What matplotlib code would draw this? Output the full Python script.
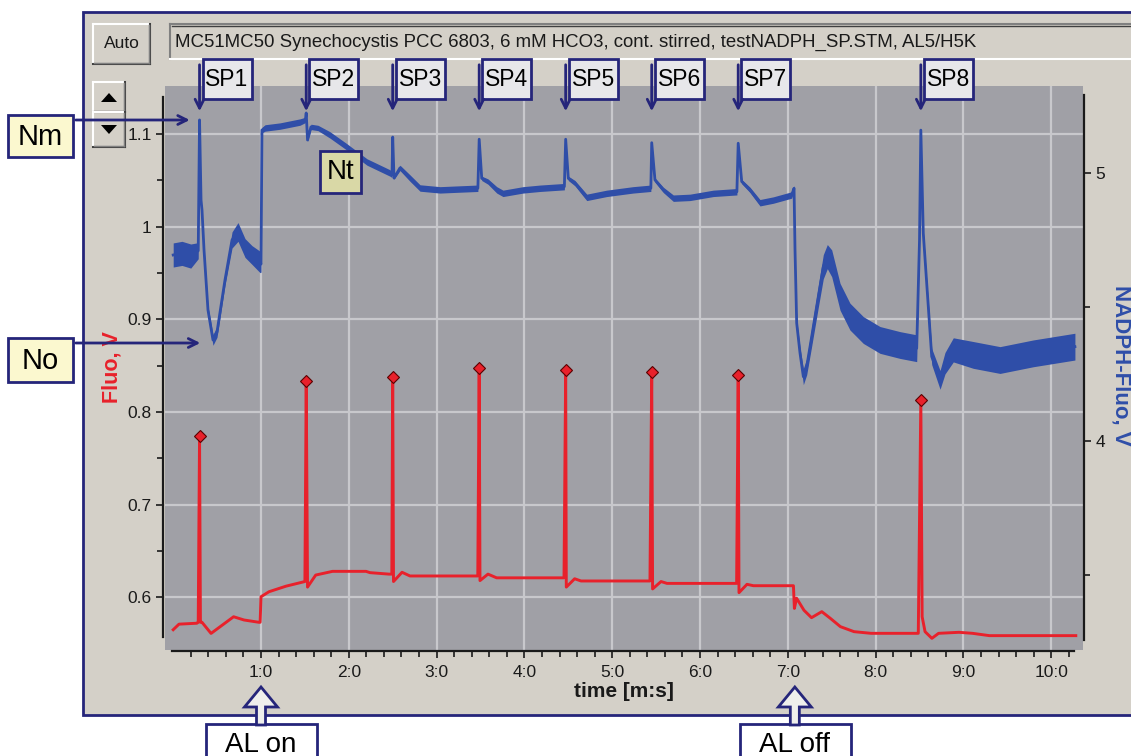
import numpy as np
import matplotlib
matplotlib.use('Agg')
import matplotlib.pyplot as plt
from matplotlib.patches import Rectangle, Polygon, FancyArrowPatch
from matplotlib.lines import Line2D
from matplotlib.ticker import FixedLocator, FuncFormatter

W, H = 1131, 756

# saturation pulses (min) and the peak reached by each trace
sp_times = [0.30, 1.515, 2.50, 3.485, 4.47, 5.45, 6.435, 8.515]
sp_labels = ['SP1', 'SP2', 'SP3', 'SP4', 'SP5', 'SP6', 'SP7', 'SP8']
red_peaks = [0.774, 0.833, 0.838, 0.847, 0.845, 0.843, 0.840, 0.813]
blue_peaks = [5.198, 5.224, 5.134, 5.126, 5.126, 5.113, 5.111, 5.16]

# actinic light on / off
al_times = [1.0, 7.08]
al_labels = ['AL on', 'AL off']

# chlorophyll fluorescence (left axis), between pulses
red_t = [0.00, 0.066, 0.27, 0.285, 0.31, 0.328, 0.431, 0.688, 0.806, 0.977, 0.99,
         1.0, 1.091, 1.285, 1.50, 1.53, 1.623, 1.815, 2.196, 2.241, 2.458, 2.49,
         2.509, 2.606, 2.697, 3.469, 3.494, 3.585, 3.684, 4.451, 4.477, 4.572,
         4.645, 5.43, 5.46, 5.556, 5.624, 6.417, 6.444, 6.535, 6.608, 7.064,
         7.075, 7.10, 7.184, 7.27, 7.387, 7.484, 7.599, 7.754, 7.948, 8.486,
         8.53, 8.563, 8.641, 8.717, 8.95, 9.104, 9.296, 10.28]
red_v = [0.565, 0.571, 0.572, 0.573, 0.573, 0.573, 0.561, 0.579, 0.5755, 0.573, 0.573,
         0.6006, 0.606, 0.612, 0.617, 0.611, 0.624, 0.628, 0.628, 0.6266, 0.625, 0.625,
         0.617, 0.627, 0.623, 0.623, 0.618, 0.625, 0.621, 0.621, 0.611, 0.620,
         0.6176, 0.6176, 0.609, 0.617, 0.615, 0.615, 0.605, 0.614, 0.6125, 0.6125,
         0.588, 0.599, 0.586, 0.578, 0.5845, 0.5773, 0.5683, 0.5629, 0.5611, 0.5611,
         0.579, 0.5629, 0.5557, 0.5611, 0.5622, 0.5611, 0.5586, 0.5586]

# NADPH fluorescence (right axis), between pulses, with noise half-width
blue_t = [0.00, 0.10, 0.20, 0.285, 0.317, 0.328, 0.351, 0.396, 0.453, 0.499, 0.59,
          0.67, 0.738, 0.818, 0.897, 0.989, 1.0, 1.011, 1.046, 1.216, 1.444, 1.505,
          1.53, 1.569, 1.649, 1.786, 1.979, 2.207, 2.469, 2.492, 2.515, 2.583, 2.697,
          2.811, 3.039, 3.25, 3.47, 3.514, 3.585, 3.685, 3.756, 3.984, 4.178, 4.455,
          4.50, 4.576, 4.71, 4.937, 5.237, 5.44, 5.487, 5.582, 5.696, 5.886, 6.151,
          6.42, 6.475, 6.569, 6.683, 6.835, 7.044, 7.071, 7.082, 7.101, 7.139, 7.177,
          7.215, 7.272, 7.347, 7.404, 7.45, 7.50, 7.595, 7.708, 7.86, 8.05, 8.278,
          8.468, 8.50, 8.543, 8.582, 8.639, 8.734, 8.79, 8.885, 9.113, 9.417, 9.796,
          10.27]
blue_v = [4.694, 4.70, 4.69, 4.71, 4.899, 4.862, 4.713, 4.489, 4.377, 4.407, 4.601,
          4.75, 4.78, 4.72, 4.694, 4.668, 4.66, 5.16, 5.168, 5.175, 5.19, 5.198,
          5.123, 5.172, 5.168, 5.142, 5.097, 5.041, 5.0, 4.993, 4.981, 5.019, 4.981,
          4.944, 4.937, 4.94, 4.943, 4.980, 4.968, 4.937, 4.924, 4.937, 4.943, 4.949,
          4.980, 4.962, 4.909, 4.924, 4.937, 4.943, 4.974, 4.937, 4.906, 4.909, 4.924,
          4.93, 4.968, 4.937, 4.889, 4.899, 4.918, 4.943, 4.713, 4.440, 4.328, 4.24,
          4.277, 4.389, 4.538, 4.650, 4.688, 4.663, 4.538, 4.464, 4.414, 4.377, 4.358,
          4.346, 4.75, 4.775, 4.588, 4.315, 4.228, 4.29, 4.34, 4.321, 4.302, 4.327,
          4.352]
blue_noise = [0.045, 0.045, 0.045, 0.03, 0.0, 0.005, 0.01, 0.015, 0.02, 0.02, 0.02,
              0.03, 0.035, 0.035, 0.035, 0.04, 0.03, 0.01, 0.012, 0.012, 0.012, 0.01,
              0.005, 0.01, 0.01, 0.012, 0.012, 0.012, 0.012, 0.01, 0.005, 0.01, 0.012,
              0.012, 0.012, 0.012, 0.012, 0.008, 0.01, 0.012, 0.012, 0.012, 0.012, 0.012,
              0.008, 0.01, 0.012, 0.012, 0.012, 0.012, 0.008, 0.01, 0.012, 0.012, 0.012,
              0.012, 0.008, 0.01, 0.012, 0.012, 0.012, 0.01, 0.01, 0.015, 0.02, 0.03,
              0.03, 0.035, 0.04, 0.045, 0.045, 0.05, 0.05, 0.05, 0.05, 0.05, 0.05,
              0.05, 0.01, 0.01, 0.015, 0.03, 0.035, 0.04, 0.045, 0.05, 0.05, 0.05,
              0.05]

header = 'MC51MC50 Synechocystis PCC 6803, 6 mM HCO3, cont. stirred, testNADPH_SP.STM, AL5/H5K'

PANEL = '#d4d0c8'
NAVY = '#25257a'
PLOT_BG = '#a0a0a6'
GRID = '#c8c8cc'
RED = '#e8212b'
BLUE = '#2f4ea8'
INK = '#1a1a1a'

plt.rcParams['font.family'] = ['Liberation Sans', 'DejaVu Sans']

fig = plt.figure(figsize=(W / 100, H / 100), dpi=100)
fig.patch.set_facecolor('white')


def fx(x):
    return x / W


def fy(y):
    return 1 - y / H


def frect(x0, y0, x1, y1, **kw):
    r = Rectangle((fx(x0), fy(y1)), fx(x1) - fx(x0), fy(y0) - fy(y1),
                  transform=fig.transFigure, **kw)
    fig.add_artist(r)
    return r


def fline(xs, ys, **kw):
    fig.add_artist(Line2D([fx(x) for x in xs], [fy(y) for y in ys],
                          transform=fig.transFigure, **kw))


def button(x0, y0, x1, y1):
    frect(x0, y0, x1, y1, fc=PANEL, ec='none', zorder=1)
    fline([x0, x1], [y0, y0], color='white', lw=1.5, zorder=2)
    fline([x0, x0], [y0, y1], color='white', lw=1.5, zorder=2)
    fline([x0, x1], [y1, y1], color='#404040', lw=1.5, zorder=2)
    fline([x1, x1], [y0, y1], color='#404040', lw=1.5, zorder=2)
    fline([x0 + 1, x1 - 1], [y1 - 1.5, y1 - 1.5], color='#808080', lw=1, zorder=2)
    fline([x1 - 1.5, x1 - 1.5], [y0 + 1, y1 - 1], color='#808080', lw=1, zorder=2)


# window panel
frect(83, 12, 1160, 715, fc=PANEL, ec=NAVY, lw=2, zorder=-10)

# toolbar
button(93, 24, 150, 64)
fig.text(fx(121.5), fy(44), 'Auto', ha='center', va='center', fontsize=12.5, color=INK)
button(93, 82, 125, 112)
button(93, 112, 125, 147)
fig.add_artist(Polygon([(fx(101), fy(102)), (fx(117), fy(102)), (fx(109), fy(93))],
                       closed=True, fc='black', ec='none', transform=fig.transFigure, zorder=3))
fig.add_artist(Polygon([(fx(101), fy(125)), (fx(117), fy(125)), (fx(109), fy(134))],
                       closed=True, fc='black', ec='none', transform=fig.transFigure, zorder=3))

frect(170, 24, 1160, 59, fc=PANEL, ec='none', zorder=1)
fline([170, 1131], [24, 24], color='#808080', lw=1.5, zorder=2)
fline([170, 170], [24, 59], color='#808080', lw=1.5, zorder=2)
fline([171.5, 1131], [25.5, 25.5], color='#404040', lw=1, zorder=2)
fline([170, 1131], [59, 59], color='white', lw=1.5, zorder=2)
fig.text(fx(175), fy(42), header, ha='left', va='center', fontsize=13.4, color=INK)

# chart
ax = fig.add_axes([fx(165), fy(650), (1083 - 165) / W, (650 - 86) / H])
ax2 = ax.twinx()
ax.set_facecolor(PLOT_BG)
ax.set_xlim(-0.0934, 10.362)
ax.set_ylim(0.5431, 1.1519)
ax2.set_ylim(3.220, 5.3246)

for s in ['top', 'right']:
    ax.spines[s].set_visible(False)
for s in ['top', 'left', 'bottom']:
    ax2.spines[s].set_visible(False)
ax.spines['left'].set_position(('outward', 1.5))
ax.spines['left'].set_bounds(0.5566, 1.140)
ax.spines['bottom'].set_position(('outward', 1))
ax.spines['bottom'].set_bounds(-0.014, 10.26)
ax2.spines['right'].set_position(('outward', 1))
ax2.spines['right'].set_bounds(3.257, 5.291)
for sp in [ax.spines['left'], ax.spines['bottom'], ax2.spines['right']]:
    sp.set_color(INK)
    sp.set_linewidth(1.6)

ax.xaxis.set_major_locator(FixedLocator(list(range(1, 11))))
ax.xaxis.set_minor_locator(FixedLocator([m / 5 for m in range(1, 52)]))
ax.xaxis.set_major_formatter(FuncFormatter(lambda v, p: f'{int(round(v))}:0'))
ax.yaxis.set_major_locator(FixedLocator([0.6, 0.7, 0.8, 0.9, 1.0, 1.1]))
ax.yaxis.set_minor_locator(FixedLocator([0.65, 0.75, 0.85, 0.95, 1.05]))
ax.yaxis.set_major_formatter(FuncFormatter(lambda v, p: f'{v:g}'))
ax2.yaxis.set_major_locator(FixedLocator([4, 5]))
ax2.yaxis.set_minor_locator(FixedLocator([3.5, 4.5]))
ax2.yaxis.set_major_formatter(FuncFormatter(lambda v, p: f'{v:g}'))

for a in (ax, ax2):
    a.tick_params(which='major', length=5, width=1.2, color=INK,
                  labelsize=12.5, labelcolor=INK, pad=3)
    a.tick_params(which='minor', length=4, width=1.2, color=INK)
ax.tick_params(axis='x', which='major', pad=5)
ax.grid(True, which='major', color=GRID, lw=1.6)
ax.set_axisbelow(True)

ax.set_xlabel('time [m:s]', fontsize=15, fontweight='bold', color=INK, labelpad=1)
fig.text(fx(112), fy(367), 'Fluo, V', rotation=90, ha='center', va='center',
         fontsize=15.5, fontweight='bold', color=RED)
fig.text(fx(1121), fy(365), 'NADPH-Fluo, V', rotation=270, ha='center', va='center',
         fontsize=16, fontweight='bold', color=BLUE)

# traces with the pulse peaks merged in
rt = np.concatenate([red_t, sp_times])
rv = np.concatenate([red_v, red_peaks])
order = np.argsort(rt, kind='stable')
ax.plot(rt[order], rv[order], color=RED, lw=2.1, zorder=3)
ax.plot(sp_times, red_peaks, ls='none', marker='D', ms=6, mfc=RED, mec='#5a0000',
        mew=0.8, zorder=4)

bt = np.concatenate([blue_t, sp_times])
bv = np.concatenate([blue_v, blue_peaks])
bn = np.concatenate([blue_noise, np.zeros(len(sp_times))])
order = np.argsort(bt, kind='stable')
bt, bv, bn = bt[order], bv[order], bn[order]
ax2.fill_between(bt, bv - bn, bv + bn, color=BLUE, lw=0, zorder=2)
ax2.plot(bt, bv, color=BLUE, lw=2, zorder=3)


def tx(t):
    # pixel x (from the left) of a time on the chart
    return ax.transData.transform((t, 0.6))[0]


def arrow(x0, y0, x1, y1):
    fig.add_artist(FancyArrowPatch((fx(x0), fy(y0)), (fx(x1), fy(y1)),
                                   transform=fig.transFigure, arrowstyle='->',
                                   mutation_scale=16, lw=2, color=NAVY, zorder=6))


# pulse labels
for t, lab in zip(sp_times, sp_labels):
    x = tx(t)
    arrow(x, 62, x, 114)
    frect(x + 3, 59, x + 52, 99, fc='#e7e7ea', ec=NAVY, lw=2, zorder=5)
    fig.text(fx(x + 27.5), fy(80), lab, ha='center', va='center', fontsize=16.5,
             color='black', zorder=7)

# Nm / No / Nt markers
frect(8, 115, 73, 157, fc='#fbf8cf', ec=NAVY, lw=2, zorder=5)
fig.text(fx(40.5), fy(137), 'Nm', ha='center', va='center', fontsize=21, zorder=7)
arrow(73, 120, tx(0.22), 120)
frect(8, 338, 73, 382, fc='#fbf8cf', ec=NAVY, lw=2, zorder=5)
fig.text(fx(40.5), fy(361), 'No', ha='center', va='center', fontsize=21, zorder=7)
arrow(73, 343, tx(0.34), 343)
frect(320, 151, 361, 193, fc='#d9d8a6', ec=NAVY, lw=2, zorder=5)
fig.text(fx(340.5), fy(172), 'Nt', ha='center', va='center', fontsize=20, zorder=7)

# actinic light markers below the window
for t, lab in zip(al_times, al_labels):
    x = tx(t)
    pts = [(x, 687), (x + 16.5, 707), (x + 4.5, 707), (x + 4.5, 725),
           (x - 4.5, 725), (x - 4.5, 707), (x - 16.5, 707)]
    fig.add_artist(Polygon([(fx(a), fy(b)) for a, b in pts], closed=True, fc='#efefec',
                           ec=NAVY, lw=2, transform=fig.transFigure, zorder=6))
    frect(x - 55, 724, x + 56, 770, fc='white', ec=NAVY, lw=2, zorder=5)
    fig.text(fx(x), fy(745), lab, ha='center', va='center', fontsize=20, zorder=7)

fig.savefig('out.png', dpi=100, facecolor='white')
